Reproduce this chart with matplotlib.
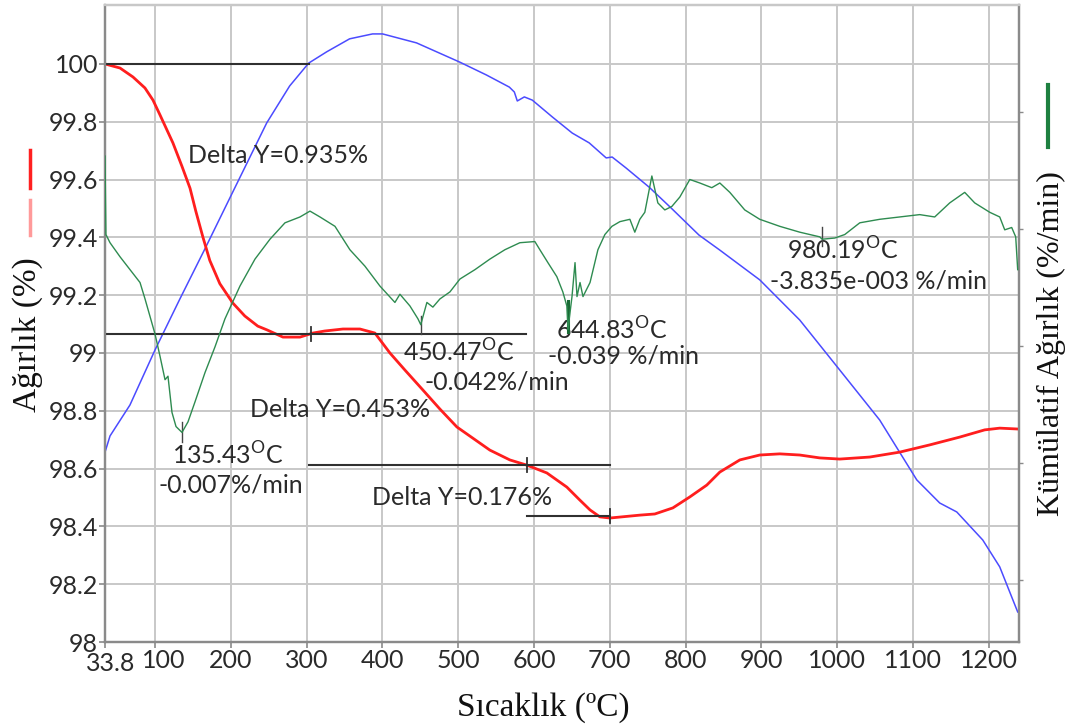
import matplotlib
matplotlib.use("Agg")
import matplotlib.pyplot as plt
import matplotlib.transforms as mtransforms
from matplotlib.lines import Line2D

plt.rcParams['font.family'] = ['Lato', 'DejaVu Sans']
plt.rcParams['mathtext.fontset'] = 'custom'
plt.rcParams['mathtext.rm'] = 'Lato'

# kutle (%) - kirmizi
t_red = [33.8, 53.6, 70.7, 86.5, 97.1, 106.3, 123.4, 135.2, 146.0, 153.7, 163.1,
         172.1, 185.3, 202.4, 218.3, 235.4, 247.5, 268.6, 291.1, 308.2, 323.6, 347.8,
         370.2, 390.0, 409.8, 429.6, 453.3, 475.8, 498.2, 541.7, 568.1, 590.5, 616.9,
         643.3, 660.5, 673.9, 686.9, 700.0, 739.6, 759.4, 783.2, 805.6, 828.0, 845.2,
         871.6, 897.9, 924.3, 950.7, 977.1, 1003.5, 1043.1, 1082.6, 1122.2, 1161.8,
         1194.8, 1214.6, 1238.3]
w_red = [100.0, 99.986, 99.955, 99.917, 99.875, 99.824, 99.727, 99.647, 99.570,
         99.490, 99.400, 99.320, 99.240, 99.173, 99.128, 99.093, 99.080, 99.055, 99.055,
         99.069, 99.076, 99.083, 99.083, 99.069, 99.000, 98.941, 98.872, 98.806, 98.744,
         98.664, 98.630, 98.612, 98.585, 98.536, 98.491, 98.457, 98.433, 98.429, 98.439,
         98.443, 98.464, 98.502, 98.543, 98.588, 98.630, 98.647, 98.651, 98.647, 98.637,
         98.633, 98.640, 98.657, 98.682, 98.709, 98.734, 98.740, 98.737]

# mavi egri (sol eksen olceginde)
t_blue = [33.8, 40.4, 66.7, 99.7, 132.6, 165.6, 202.4, 247.2, 277.5, 302.6,
          326.3, 356.6, 386.9, 400.1, 444.9, 501.5, 537.1, 567.4, 574.0, 577.9, 587.2,
          597.7, 624.0, 650.4, 672.8, 695.2, 703.1, 721.5, 751.8, 780.8, 817.7, 845.2,
          897.9, 950.7, 1003.5, 1056.2, 1105.1, 1135.4, 1157.9, 1192.2, 1214.6, 1238.3]
v_blue = [98.657, 98.713, 98.820, 99.010, 99.187, 99.360, 99.557, 99.796, 99.924, 100.003,
          100.042, 100.087, 100.104, 100.104, 100.073, 100.007, 99.962,
          99.920, 99.903, 99.872, 99.886, 99.875, 99.817, 99.761, 99.727, 99.675, 99.678,
          99.640, 99.574, 99.502, 99.408, 99.356, 99.253, 99.114, 98.941, 98.768, 98.561,
          98.481, 98.450, 98.353, 98.260, 98.104]

# kumulatif agirlik (%/min) - yesil
t_green = [33.8, 35.0, 40.4, 53.6, 66.8, 80.0, 86.6, 93.2, 99.8, 106.4, 113.0, 116.9,
           122.2, 127.5, 135.4, 143.3, 152.5, 165.7, 178.9, 192.1, 211.9, 231.7, 251.5,
           271.3, 291.1, 304.3, 317.5, 337.3, 357.0, 376.8, 396.6, 416.4, 423.0, 436.2,
           446.8, 450.5, 458.6, 466.5, 475.8, 489.0, 502.2, 522.0, 541.7, 561.5, 581.3,
           601.1, 607.7, 618.3, 630.1, 638.0, 643.3, 644.8, 650.1, 654.1, 656.7, 660.7,
           664.6, 673.9, 684.3, 693.5, 702.8, 713.3, 726.5, 733.0, 739.6, 746.2, 752.8,
           755.5, 763.4, 772.6, 781.9, 792.4, 805.6, 818.8, 834.6, 845.2, 858.4, 878.1,
           897.9, 924.3, 950.7, 977.1, 980.2, 996.9, 1010.1, 1029.9, 1056.2, 1082.6,
           1109.0, 1128.8, 1148.6, 1168.4, 1181.6, 1201.4, 1214.6, 1221.2, 1230.4,
           1235.7, 1238.3]
g_green = [-0.0138, -0.0205, -0.0212, -0.0224, -0.0235, -0.0246, -0.0260, -0.0275, -0.0290,
           -0.0309, -0.0329, -0.0326, -0.0357, -0.0369, -0.0374, -0.0365, -0.0348, -0.0323,
           -0.0301, -0.0277, -0.0249, -0.0226, -0.0209, -0.0195, -0.0190, -0.0185, -0.0190,
           -0.0198, -0.0218, -0.0232, -0.0249, -0.0263, -0.0256, -0.0266, -0.0277, -0.0282,
           -0.0263, -0.0267, -0.0260, -0.0254, -0.0243, -0.0235, -0.0226, -0.0218, -0.0212,
           -0.0211, -0.0218, -0.0229, -0.0241, -0.0254, -0.0266, -0.0286, -0.0258, -0.0229,
           -0.0258, -0.0246, -0.0258, -0.0246, -0.0218, -0.0205, -0.0198, -0.0194, -0.0192,
           -0.0203, -0.0192, -0.0186, -0.0164, -0.0155, -0.0178, -0.0184, -0.0181, -0.0173,
           -0.0158, -0.0161, -0.0165, -0.0161, -0.0169, -0.0184, -0.0192, -0.0198, -0.0203,
           -0.0207, -0.0209, -0.0208, -0.0205, -0.0195, -0.0192, -0.0190, -0.0188, -0.0190,
           -0.0178, -0.0169, -0.0178, -0.0186, -0.0190, -0.0201, -0.0199, -0.0207, -0.0235]

xticks = [33.8, 100, 200, 300, 400, 500, 600, 700, 800, 900, 1000, 1100, 1200]
xticklabels = ['33.8', '100', '200', '300', '400', '500', '600', '700', '800', '900',
               '1000', '1100', '1200']
yticks = [98, 98.2, 98.4, 98.6, 98.8, 99, 99.2, 99.4, 99.6, 99.8, 100]

# kademeler: (baslangic, bitis, seviye, isaret)
steps = [(33.8, 303.0, 100.0, None),
         (33.8, 590.0, 99.065, 306.0),
         (303.0, 700.0, 98.612, 590.5),
         (590.5, 700.0, 98.436, 700.0)]
step_labels = [('Delta Y=0.935%', 143, 99.685),
               ('Delta Y=0.453%', 225, 98.803),
               ('Delta Y=0.176%', 386, 98.50)]

# tepe noktalari (T, yazi1, yazi2, x1, y1, x2, y2)
peaks = [(135.43, '135.43$^{\\mathrm{O}}$C', '-0.007%/min', 122, 98.647, 104, 98.543),
         (450.47, '450.47$^{\\mathrm{O}}$C', '-0.042%/min', 427, 99.003, 456, 98.90),
         (644.83, '644.83$^{\\mathrm{O}}$C', '-0.039 %/min', 629, 99.08, 618, 98.99),
         (980.19, '980.19$^{\\mathrm{O}}$C', '-3.835e-003 %/min', 934, 99.356, 911, 99.25)]

fig = plt.figure(figsize=(10.76, 7.27), dpi=100)
ax = fig.add_axes([0.0976, 0.1169, 0.8494, 0.8762])
ax2 = ax.twinx()

ax.set_xlim(33.8, 1240)
ax.set_ylim(98, 100.204)
ax2.set_ylim(-0.0553, -0.0009)

grid_c = '#c8c8c8'
for s in ['left', 'bottom', 'right', 'top']:
    ax.spines[s].set_color('#8a8a8a')
    ax.spines[s].set_linewidth(1.6)
    ax2.spines[s].set_color('#8a8a8a')
    ax2.spines[s].set_linewidth(1.6)
ax.spines['top'].set_color(grid_c)
ax2.spines['top'].set_color(grid_c)

ax.set_xticks(xticks)
ax.set_xticklabels(xticklabels)
ax.set_yticks(yticks)
ax.set_yticklabels(['%g' % v for v in yticks])
ax.tick_params(axis='both', labelsize=18, colors='#8a8a8a', labelcolor='#2a2a2a',
               length=4, width=1.2, pad=1)
ax.grid(True, color=grid_c, lw=1.4)
ax.set_axisbelow(True)

# 33.8 ve 100 etiketleri ust uste binmesin
xl = ax.get_xticklabels()
xl[0].set_transform(xl[0].get_transform() +
                    mtransforms.ScaledTranslation(0.06, -0.03, fig.dpi_scale_trans))
xl[1].set_transform(xl[1].get_transform() +
                    mtransforms.ScaledTranslation(0.09, 0, fig.dpi_scale_trans))

ax2.set_yticks([-0.05, -0.04, -0.03, -0.02, -0.01])
ax2.set_yticklabels([])
ax2.tick_params(axis='y', length=3, width=1, colors='#8a8a8a')

ax.plot(t_blue, v_blue, color='#4b4bff', lw=1.1, zorder=3)
ax2.plot(t_green, g_green, color='#2e8b50', lw=1.0, zorder=3)
ax.plot(t_red, w_red, color='#ff1e1e', lw=2.0, zorder=4)

for x0, x1, lev, mark in steps:
    ax.plot([x0, x1], [lev, lev], color='#303030', lw=1.5, zorder=5)
    if mark is not None:
        ax.plot([mark, mark], [lev - 0.025, lev + 0.025], color='#303030', lw=1.3, zorder=5)

for txt, x, y in step_labels:
    ax.text(x, y, txt, fontsize=18, color='#2a2a2a', va='center', ha='left', zorder=6)

for T, l1, l2, x1, y1, x2, y2 in peaks:
    ax.text(x1, y1, l1, fontsize=18, color='#2a2a2a', va='center', ha='left', zorder=6)
    ax.text(x2, y2, l2, fontsize=18, color='#2a2a2a', va='center', ha='left', zorder=6)

# tepe isaretleri
ax2.plot([135.43, 135.43], [-0.0365, -0.0382], color='#444444', lw=1.0)
ax2.plot([450.47, 450.47], [-0.0275, -0.0290], color='#444444', lw=1.0)
ax2.plot([644.83, 644.83], [-0.0262, -0.0288], color='#1a6b35', lw=2.2)
ax2.plot([980.19, 980.19], [-0.0199, -0.0215], color='#444444', lw=1.0)

# eksen basliklari
fig.text(0.026, 0.54, 'Ağırlık (%)', rotation=90, fontsize=24, va='center', ha='center',
         family='Liberation Serif', color='#111111')
fig.text(0.977, 0.527, 'Kümülatif Ağırlık (%/min)', rotation=90, fontsize=23,
         va='center', ha='center', family='Liberation Serif', color='#111111')
fig.text(0.505, 0.026, 'Sıcaklık (ºC)', fontsize=24, va='center', ha='center',
         family='Liberation Serif', color='#111111')

# seri isaretleri
fig.add_artist(Line2D([0.028, 0.028], [0.742, 0.794], color='#ff2020', lw=2.5))
fig.add_artist(Line2D([0.028, 0.028], [0.677, 0.725], color='#ff9a9a', lw=2.5))
fig.add_artist(Line2D([0.974, 0.974], [0.798, 0.883], color='#1e8040', lw=3))

fig.savefig('out.png', dpi=100)
